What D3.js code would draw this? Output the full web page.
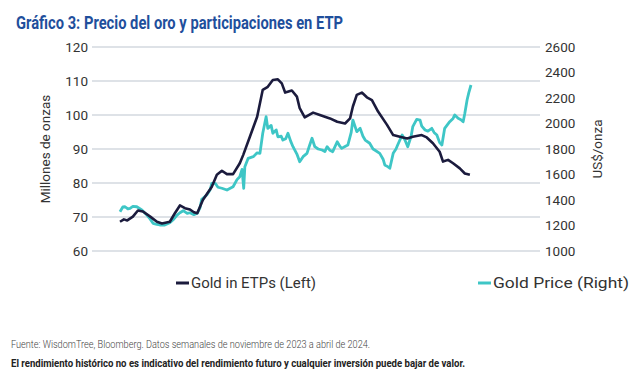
<!DOCTYPE html>
<html><head><meta charset="utf-8">
<script src="https://cdn.jsdelivr.net/npm/d3@7"></script>
<style>
html,body{margin:0;padding:0;background:#fff;}
svg{display:block;font-family:Roboto,"Noto Sans",sans-serif;}
</style></head>
<body>
<svg id="chart" width="643" height="381"></svg>
<script>
// ---- DATA ----
const title = "Gráfico 3: Precio del oro y participaciones en ETP";
const leftTicks = [60, 70, 80, 90, 100, 110, 120];
const rightTicks = [1000, 1200, 1400, 1600, 1800, 2000, 2200, 2400, 2600];
const leftLabel = "Millones de onzas";
const rightLabel = "US$/onza";
const seriesNames = ["Gold in ETPs (Left)", "Gold Price (Right)"];
const footer1 = "Fuente: WisdomTree, Bloomberg. Datos semanales de noviembre de 2023 a abril de 2024.";
const footer2 = "El rendimiento histórico no es indicativo del rendimiento futuro y cualquier inversión puede bajar de valor.";

// Gold in ETPs (Moz), time in decimal years
const etpTime = [2018.00,2018.07,2018.13,2018.23,2018.32,2018.41,2018.54,2018.66,2018.75,2018.89,2018.98,2019.07,2019.16,2019.25,2019.32,2019.38,2019.48,2019.64,2019.73,2019.82,2019.91,2020.02,2020.14,2020.20,2020.32,2020.45,2020.55,2020.64,2020.73,2020.82,2020.89,2020.95,2021.07,2021.16,2021.21,2021.30,2021.45,2021.57,2021.75,2021.88,2022.02,2022.11,2022.16,2022.23,2022.32,2022.41,2022.50,2022.61,2022.77,2022.88,2023.00,2023.13,2023.23,2023.39,2023.48,2023.59,2023.71,2023.77,2023.86,2023.95,2024.07,2024.16,2024.25];
const etpValue = [68.6,69.3,69.0,70.1,71.9,71.6,70.1,68.6,68.1,68.6,71.1,73.4,72.6,72.2,71.4,71.1,75.0,78.9,82.4,83.6,82.6,82.6,85.8,88.2,93.6,99.5,107.4,108.3,110.3,110.5,109.3,106.6,107.2,105.4,102.0,99.3,100.7,100.0,99.0,98.0,97.5,99.0,102.5,105.9,106.6,105.2,104.4,101.0,97.1,94.1,93.6,93.1,93.6,94.1,93.4,91.7,89.2,86.3,86.8,85.8,84.3,82.8,82.4];

// Gold price (US$/oz)
const goldTime = [2018.00,2018.05,2018.09,2018.14,2018.18,2018.23,2018.30,2018.39,2018.48,2018.54,2018.59,2018.66,2018.71,2018.80,2018.89,2018.96,2019.02,2019.07,2019.13,2019.20,2019.25,2019.32,2019.38,2019.43,2019.46,2019.55,2019.61,2019.64,2019.70,2019.75,2019.82,2019.91,2020.02,2020.09,2020.14,2020.18,2020.21,2020.23,2020.29,2020.38,2020.45,2020.50,2020.55,2020.61,2020.64,2020.70,2020.73,2020.79,2020.82,2020.88,2020.91,2020.96,2021.00,2021.05,2021.09,2021.16,2021.21,2021.27,2021.34,2021.38,2021.43,2021.48,2021.54,2021.61,2021.66,2021.70,2021.75,2021.80,2021.88,2021.93,2021.96,2022.02,2022.07,2022.13,2022.16,2022.23,2022.29,2022.34,2022.38,2022.46,2022.52,2022.55,2022.64,2022.70,2022.73,2022.79,2022.82,2022.88,2022.93,2022.96,2023.04,2023.09,2023.14,2023.20,2023.23,2023.30,2023.36,2023.39,2023.45,2023.50,2023.57,2023.61,2023.66,2023.71,2023.75,2023.80,2023.89,2023.95,2023.98,2024.04,2024.09,2024.13,2024.16,2024.20,2024.23,2024.27];
const goldValue = [1308,1345,1347,1330,1335,1350,1347,1322,1282,1250,1217,1208,1204,1204,1222,1250,1282,1300,1316,1295,1300,1285,1296,1340,1405,1439,1480,1531,1531,1500,1492,1478,1504,1560,1583,1640,1492,1661,1727,1740,1770,1766,1923,2053,1962,1985,1923,1950,1896,1900,1870,1880,1923,1860,1818,1760,1700,1740,1766,1820,1884,1818,1800,1792,1780,1818,1790,1779,1857,1820,1805,1820,1831,1930,2027,1936,1962,1900,1870,1845,1800,1792,1766,1720,1675,1660,1649,1766,1800,1831,1910,1870,1818,1900,1975,2033,2027,1980,1949,1940,1962,1930,1910,1850,1831,1962,2014,2040,2067,2041,2030,2014,2080,2184,2240,2302];

// ---- DRAW ----
const svg = d3.select("#chart");
const navy = "#1b1b3d", teal = "#3ec6c6", textCol = "#333333";
const gridL = 92, gridR = 540, plotTop = 47, plotBottom = 251;

const x = d3.scaleLinear().domain([2018, 2024.27]).range([120, 471]);
const yL = d3.scaleLinear().domain([60, 120]).range([plotBottom, plotTop]);
const yR = d3.scaleLinear().domain([1000, 2600]).range([plotBottom, plotTop]);

// title
svg.append("text").attr("x", 16).attr("y", 29)
  .attr("font-size", 18.5).attr("font-weight", 700).attr("fill", "#1f4f9c")
  .attr("textLength", 327).attr("lengthAdjust", "spacingAndGlyphs")
  .text(title);

// gridlines (left axis)
svg.append("g").selectAll("line").data(leftTicks).join("line")
  .attr("x1", gridL).attr("x2", gridR)
  .attr("y1", d => yL(d)).attr("y2", d => yL(d))
  .attr("stroke", "#d3d8df").attr("stroke-width", 1.5);

// left axis labels
const axL = svg.append("g").attr("transform", `translate(${gridL},0)`)
  .call(d3.axisLeft(yL).tickValues(leftTicks).tickFormat(d3.format("d")).tickSize(0).tickPadding(4));
axL.select(".domain").remove();
axL.selectAll("text").attr("font-size", 13.5).attr("fill", textCol).attr("font-family", "Roboto,sans-serif");

// right axis labels
const axR = svg.append("g").attr("transform", `translate(${gridR},0)`)
  .call(d3.axisRight(yR).tickValues(rightTicks).tickFormat(d3.format("d")).tickSize(0).tickPadding(5));
axR.select(".domain").remove();
axR.selectAll("text").attr("font-size", 13.5).attr("fill", textCol).attr("font-family", "Roboto,sans-serif");

// axis titles
svg.append("text").attr("transform", `translate(50,${(plotTop+plotBottom)/2}) rotate(-90)`)
  .attr("text-anchor", "middle").attr("font-size", 13.5).attr("fill", textCol)
  .text(leftLabel);
svg.append("text").attr("transform", `translate(602,${(plotTop+plotBottom)/2}) rotate(-90)`)
  .attr("text-anchor", "middle").attr("font-size", 13.5).attr("fill", textCol)
  .text(rightLabel);

// lines
const goldData = goldTime.map((t, i) => [t, goldValue[i]]);
const etpData = etpTime.map((t, i) => [t, etpValue[i]]);
svg.append("path").datum(goldData)
  .attr("fill", "none").attr("stroke", teal).attr("stroke-width", 2.8).attr("stroke-linejoin", "round")
  .attr("d", d3.line().x(d => x(d[0])).y(d => yR(d[1])));
svg.append("path").datum(etpData)
  .attr("fill", "none").attr("stroke", navy).attr("stroke-width", 2.6).attr("stroke-linejoin", "round")
  .attr("d", d3.line().x(d => x(d[0])).y(d => yL(d[1])));

// legend
const legendItems = [
  {name: seriesNames[0], color: navy, x: 176, w: 125},
  {name: seriesNames[1], color: teal, x: 478, w: 136}
];
const lg = svg.append("g").selectAll("g").data(legendItems).join("g")
  .attr("transform", d => `translate(${d.x},283)`);
lg.append("line").attr("x1", 0).attr("x2", 13).attr("y1", 0).attr("y2", 0)
  .attr("stroke", d => d.color).attr("stroke-width", 3);
lg.append("text").attr("x", 15).attr("y", 5).attr("font-size", 14.5).attr("fill", textCol)
  .attr("textLength", d => d.w).attr("lengthAdjust", "spacingAndGlyphs")
  .text(d => d.name);

// footer
svg.append("text").attr("x", 11).attr("y", 348).attr("font-size", 11.5).attr("fill", "#444")
  .attr("font-weight", 300)
  .attr("textLength", 359).attr("lengthAdjust", "spacingAndGlyphs").text(footer1);
svg.append("text").attr("x", 11).attr("y", 367).attr("font-size", 11.5).attr("fill", "#222")
  .attr("font-weight", 700)
  .attr("textLength", 454).attr("lengthAdjust", "spacingAndGlyphs").text(footer2);
</script>
</body></html>
